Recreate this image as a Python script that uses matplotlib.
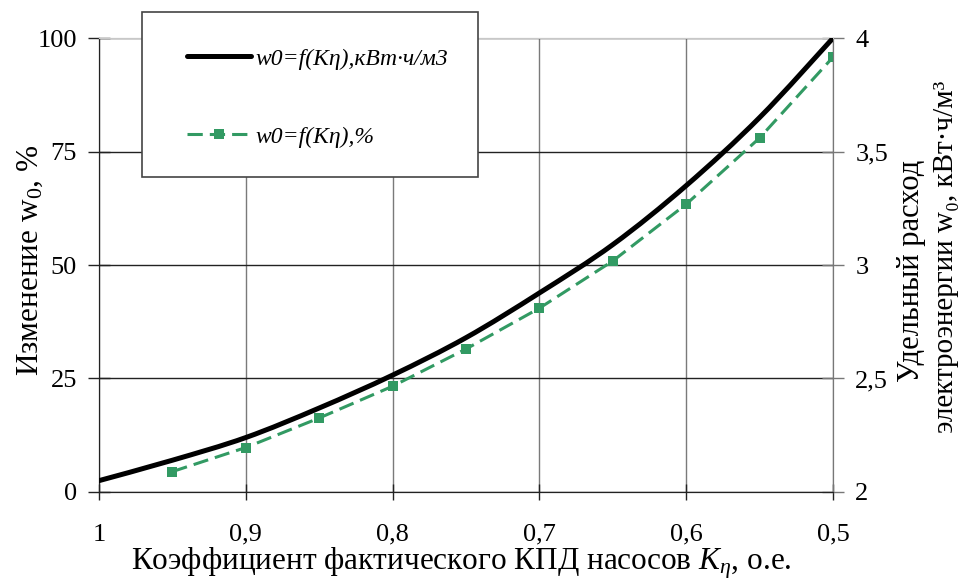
import matplotlib
matplotlib.use("Agg")
import matplotlib.pyplot as plt
from matplotlib.ticker import FuncFormatter
from matplotlib.path import Path
from matplotlib.patches import PathPatch, Rectangle
from matplotlib.lines import Line2D

plt.rcParams['font.family'] = ['Liberation Serif', 'DejaVu Serif']
plt.rcParams['mathtext.fontset'] = 'custom'
plt.rcParams['mathtext.rm'] = 'Liberation Serif'
plt.rcParams['mathtext.it'] = 'Liberation Serif:italic'

# данные
k_line = [1.0, 0.95, 0.9, 0.85, 0.8, 0.75, 0.7, 0.65, 0.6, 0.55, 0.5]
w0_kwh = [2.05, 2.14, 2.24, 2.37, 2.515, 2.68, 2.877, 3.09, 3.35, 3.65, 4.0]

k_pct = [0.95, 0.9, 0.85, 0.8, 0.75, 0.7, 0.65, 0.6, 0.55, 0.5]
w0_pct = [4.5, 9.8, 16.3, 23.3, 31.5, 40.5, 50.9, 63.4, 78.0, 95.8]

x_ticks = [1, 0.9, 0.8, 0.7, 0.6, 0.5]
left_ticks = [0, 25, 50, 75, 100]
right_ticks = [2, 2.5, 3, 3.5, 4]

green = '#329a63'
fs = 19
lfs = 22.5


def comma(v, pos):
    return ('%g' % v).replace('.', ',')


def smooth_path(xs, ys):
    # сглаженная линия как в Excel (кривые Безье через точки)
    verts = [(xs[0], ys[0])]
    codes = [Path.MOVETO]
    n = len(xs)
    for i in range(n - 1):
        x0, y0 = (xs[i - 1], ys[i - 1]) if i > 0 else (xs[i], ys[i])
        x3, y3 = (xs[i + 2], ys[i + 2]) if i + 2 < n else (xs[i + 1], ys[i + 1])
        c1 = (xs[i] + (xs[i + 1] - x0) / 6, ys[i] + (ys[i + 1] - y0) / 6)
        c2 = (xs[i + 1] - (x3 - xs[i]) / 6, ys[i + 1] - (y3 - ys[i]) / 6)
        verts += [c1, c2, (xs[i + 1], ys[i + 1])]
        codes += [Path.CURVE4] * 3
    return Path(verts, codes)


fig = plt.figure(figsize=(9.68, 5.83), dpi=100)
ax = fig.add_axes([0.1023, 0.1561, 0.7583, 0.7787])
ax2 = ax.twinx()

l2, = ax.plot(k_pct, w0_pct, color=green, lw=2.2, dashes=(5, 2.3),
              marker='s', markersize=6.5, markeredgewidth=0,
              label='w0=f(Kη),%', zorder=3)
ax2.add_patch(PathPatch(smooth_path(k_line, w0_kwh), fill=False,
                        edgecolor='black', lw=3.6, capstyle='round', zorder=4))
l1 = Line2D([], [], color='black', lw=3.6, solid_capstyle='round',
            label='w0=f(Kη),кВт·ч/м3')

ax.set_xlim(1, 0.5)
ax.set_ylim(0, 100)
ax2.set_ylim(2, 4)
ax.set_xticks(x_ticks)
ax.set_yticks(left_ticks)
ax2.set_yticks(right_ticks)
ax.xaxis.set_major_formatter(FuncFormatter(comma))
ax2.yaxis.set_major_formatter(FuncFormatter(comma))

ax.grid(axis='x', color='#7a7a7a', lw=1.0)
ax.grid(axis='y', color='#222222', lw=1.0)
ax.set_axisbelow(True)

for a in (ax, ax2):
    a.spines['top'].set_color('#c8c8c8')
    a.spines['right'].set_color('#777777')
    a.spines['left'].set_color('#222222')
    a.spines['bottom'].set_color('#222222')

ax.tick_params(axis='x', direction='inout', length=12, width=1, pad=17,
               labelsize=fs, color='#222222')
ax.tick_params(axis='y', direction='inout', length=16, width=1, pad=8,
               labelsize=fs, color='#222222')
ax2.tick_params(axis='y', direction='inout', length=16, width=1, pad=8,
                labelsize=fs, color='#777777')

fig.text(0.477, 0.034, r'Коэффициент фактического КПД насосов $K_\eta$, о.е.',
         ha='center', va='center', fontsize=lfs)
fig.text(0.031, 0.553, r'Изменение $\mathrm{w}_{0}$, %', rotation=90,
         ha='center', va='center', fontsize=lfs)
fig.text(0.942, 0.535, 'Удельный расход', rotation=90,
         ha='center', va='center', fontsize=22)
fig.text(0.977, 0.56, 'электроэнергии w₀, кВт·ч/м³', rotation=90,
         ha='center', va='center', fontsize=21)

fig.add_artist(Rectangle((142 / 968, 1 - 177 / 583), 336 / 968, 165 / 583,
                         transform=fig.transFigure, facecolor='white',
                         edgecolor='#444444', lw=1.2, zorder=9))
leg = fig.legend(handles=[l1, l2], loc='upper left',
                 bbox_to_anchor=(187 / 968, 1 - 48 / 583),
                 bbox_transform=fig.transFigure,
                 prop={'family': 'Liberation Serif', 'style': 'italic', 'size': 17},
                 frameon=False, borderpad=0, labelspacing=2.4,
                 handlelength=2.7, handletextpad=0.2, borderaxespad=0)
leg.set_zorder(10)

fig.savefig('out.png', dpi=100)
